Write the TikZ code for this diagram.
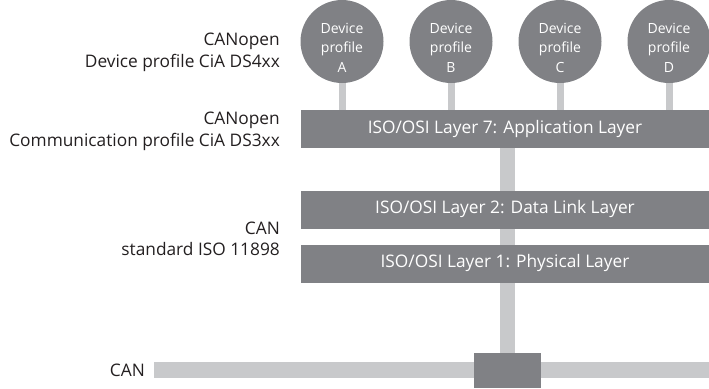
\documentclass[tikz,border=0pt]{standalone}
\usepackage{fontspec}
\setmainfont{Open Sans}
\usetikzlibrary{backgrounds}
\definecolor{darkbox}{RGB}{128,129,133}
\definecolor{lightbar}{RGB}{200,201,203}
\definecolor{labeltext}{RGB}{35,31,32}
\begin{document}
\begin{tikzpicture}[x=1pt,y=-1pt,
  device/.style={circle,fill=darkbox,minimum size=83pt,inner sep=0pt},
  devtext/.style={text=white,align=center,inner sep=0pt,font=\fontsize{14}{19.5}\selectfont},
  layerbox/.style={rectangle,fill=darkbox,text=white,minimum width=408pt,minimum height=38pt,inner sep=0pt,font=\fontsize{17.3}{20}\selectfont},
  sidelabel/.style={anchor=east,align=right,text=labeltext,inner sep=0pt,font=\fontsize{17.3}{21.5}\selectfont},
  stem/.style={draw=lightbar,line width=7pt},
  trunk/.style={draw=lightbar,line width=15pt},
  bus/.style={draw=lightbar,line width=16pt},
  tap/.style={rectangle,fill=darkbox,minimum width=67pt,minimum height=35pt,inner sep=0pt}]
\useasboundingbox (0,0) rectangle (709,388);
\node[device,label={[devtext,yshift=-6pt]center:Device\\profile\\A}] (A) at (342,41.5) {};
\node[device,label={[devtext,yshift=-6pt]center:Device\\profile\\B}] (B) at (451,41.5) {};
\node[device,label={[devtext,yshift=-6pt]center:Device\\profile\\C}] (C) at (560,41.5) {};
\node[device,label={[devtext,yshift=-6pt]center:Device\\profile\\D}] (D) at (669,41.5) {};
\node[layerbox] (L7) at (505,129) {ISO/OSI Layer 7: Application Layer};
\node[layerbox] (L2) at (505,209.5) {ISO/OSI Layer 2: Data Link Layer};
\node[layerbox] (L1) at (505,263.5) {ISO/OSI Layer 1: Physical Layer};
\node[tap] (T) at (507.5,370.5) {};
\coordinate (busL) at (154,370);
\coordinate (busR) at (709,370);
\node[sidelabel] (lab1) at (280,52.5) {CANopen\\Device profile CiA DS4xx};
\node[sidelabel] (lab2) at (280,131.5) {CANopen\\Communication profile CiA DS3xx};
\node[sidelabel] (lab3) at (280,239) {CAN\\standard ISO 11898};
\node[sidelabel] (lab4) at (145,370) {CAN};
\begin{scope}[on background layer]
  \draw[stem] (A.south) -- (A.south |- L7.north);
  \draw[stem] (B.south) -- (B.south |- L7.north);
  \draw[stem] (C.south) -- (C.south |- L7.north);
  \draw[stem] (D.south) -- (D.south |- L7.north);
  \draw[trunk] (T.center |- L7.south) -- (T.center);
  \draw[bus] (busL) -- (busR);
\end{scope}
\end{tikzpicture}
\end{document}
